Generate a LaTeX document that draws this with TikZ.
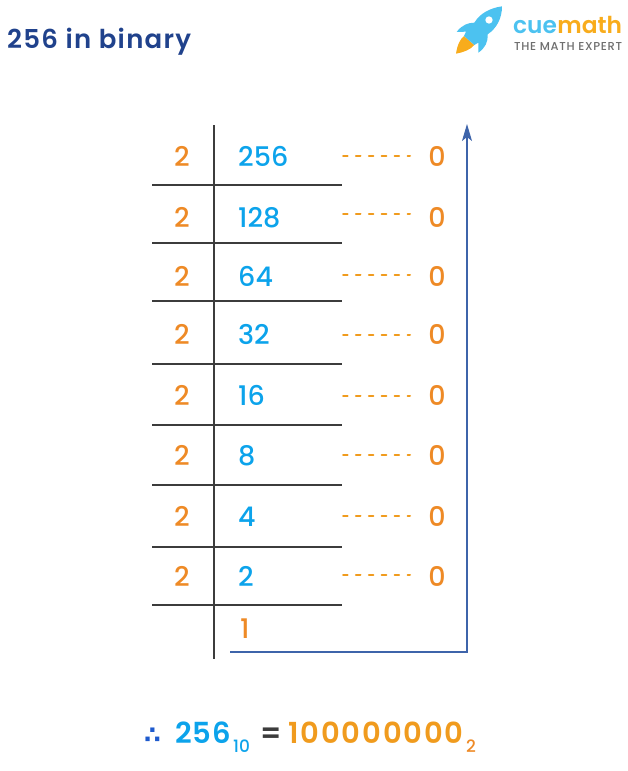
\documentclass[tikz,border=0pt]{standalone}
\usepackage{fontspec}
\setmainfont{Poppins}[UprightFont=* Medium,BoldFont=* SemiBold]
\newfontfamily\symfont{DejaVu Sans Bold}
\usetikzlibrary{arrows.meta,positioning}
\definecolor{titleblue}{RGB}{32,66,140}
\definecolor{quotblue}{RGB}{12,163,235}
\definecolor{divorange}{RGB}{238,138,38}
\definecolor{dotorange}{RGB}{240,155,30}
\definecolor{arrowblue}{RGB}{62,100,170}
\definecolor{thereblue}{RGB}{30,90,205}
\definecolor{rulegray}{RGB}{60,60,60}
\definecolor{rocketblue}{RGB}{76,194,240}
\definecolor{logoorange}{RGB}{248,172,28}
\definecolor{logogray}{RGB}{110,110,110}
\tikzset{
  % digits of the table
  divisor/.style={text=divorange, font=\fontsize{27}{27}\selectfont, inner sep=0pt},
  quotient/.style={text=quotblue, font=\fontsize{27}{27}\selectfont, inner sep=0pt, anchor=west},
  remainder/.style={divisor},
  % lines
  tablerule/.style={rulegray, line width=1.1pt},
  dotline/.style={dotorange, line width=2pt, dash pattern=on 4.6pt off 8.3pt, line cap=round},
  arr/.style={-{Stealth[length=17pt,width=10pt,inset=4pt]}, arrowblue, line width=1.2pt},
  result/.style={font=\fontsize{29}{29}\bfseries\selectfont\addfontfeatures{LetterSpace=3}, inner sep=0pt},
  small/.style={font=\fontsize{17}{17}\selectfont, inner sep=0pt},
}
\begin{document}
\begin{tikzpicture}[x=1pt,y=-1pt]
  \useasboundingbox (0,0) rectangle (627,771);

  % Title
  \node[text=titleblue, anchor=west, inner sep=0pt, font=\fontsize{26}{26}\bfseries\selectfont\addfontfeatures{LetterSpace=5}] (title) at (7,42) {256 in binary};

  % Logo
  \begin{scope}[shift={(440,0)},x=0.3333pt,y=-0.3333pt]
    \fill[logoorange] (48,161) .. controls (52,135) and (60,118) .. (72,108) -- (103,135) .. controls (90,150) and (70,157) .. (48,161) -- cycle;
    \fill[rocketblue] (186,19) .. controls (150,24) and (120,40) .. (103,68)
      .. controls (85,68) and (65,75) .. (50,96) -- (78,95) -- (72,108) -- (103,135) -- (115,128) -- (115,158)
      .. controls (135,145) and (145,125) .. (143,103) .. controls (170,85) and (186,55) .. (186,19) -- cycle;
    \fill[white] (147,60) circle (11);
  \end{scope}
  \node[text=rocketblue, anchor=base west, inner sep=0pt, font=\fontsize{23.3}{24}\bfseries\selectfont] (cue) at (513,33) {cue};
  \node[text=logoorange, anchor=base west, inner sep=0pt, font=\fontsize{23.3}{24}\bfseries\selectfont] (math) at (cue.base east) {math};
  \node[text=logogray, anchor=base west, inner sep=0pt, font=\fontsize{11.5}{12}\selectfont\addfontfeatures{LetterSpace=6}] (expert) at (514,50) {THE MATH EXPERT};

  % Table rows: row / centre y / dots y / number
  \foreach \r/\y/\d/\n in {1/156/156/256,2/217/214/128,3/276/275/64,4/334/335/32,5/395/396/16,6/455/455/8,7/516/516/4,8/576/575/2} {
    \node[divisor] (div\r) at (182,\y+0.4) {2};
    \node[quotient] (quot\r) at (238,\y+0.4) {\n};
    \node[remainder] (rem\r) at (437,\y+0.4) {0};
    \coordinate (dotl\r) at (343,\d);
    \coordinate (dotr\r) at (410,\d);
    \draw[dotline] (dotl\r) -- (dotr\r);
  }
  \node[quotient, text=divorange] (last) at (240,628.5) {1};

  % Horizontal rules
  \foreach \r/\y in {1/185,2/243,3/301,4/364,5/425,6/485,7/547,8/605} {
    \coordinate (rulel\r) at (152,\y);
    \coordinate (ruler\r) at (342,\y);
    \draw[tablerule] (rulel\r) -- (ruler\r);
  }

  % Vertical rule
  \coordinate (vtop) at (214,125);
  \coordinate (vbot) at (214,659);
  \draw[tablerule] (vtop) -- (vbot);

  % Arrow
  \coordinate (arrstart) at (230,652);
  \coordinate (arrend) at (467,124);
  \draw[arr] (arrstart) -| (arrend);

  % Result
  \node[text=thereblue, anchor=base west, inner sep=0pt, font=\fontsize{24}{24}\symfont] (there) at (144,743) {∴};
  \node[result, text=quotblue, anchor=base west] (dec) at (175,743) {256};
  \node[small, text=quotblue, anchor=base west] (ten) at (233,752) {10};
  \node[result, text=rulegray, anchor=base west] (eq) at (260,743) {=};
  \node[result, text=dotorange, anchor=base west, font=\fontsize{29}{29}\bfseries\selectfont\addfontfeatures{LetterSpace=6.5}] (bin) at (288,743) {100000000};
  \node[small, text=divorange, anchor=base west] (two) at (466,752) {2};
\end{tikzpicture}
\end{document}
